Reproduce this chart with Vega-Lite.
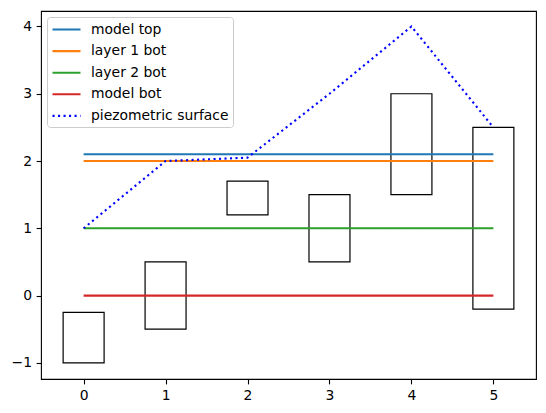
{
  "$schema": "https://vega.github.io/schema/vega-lite/v6.json",
  "width": 495,
  "height": 368,
  "autosize": "none",
  "padding": {"left": 41, "top": 11, "right": 10, "bottom": 34},
  "background": "white",
  "datasets": {
    "lines": [
      {"series": "model top", "x": 0, "y": 2.1},
      {"series": "model top", "x": 5, "y": 2.1},
      {"series": "layer 1 bot", "x": 0, "y": 2.0},
      {"series": "layer 1 bot", "x": 5, "y": 2.0},
      {"series": "layer 2 bot", "x": 0, "y": 1.0},
      {"series": "layer 2 bot", "x": 5, "y": 1.0},
      {"series": "model bot", "x": 0, "y": 0.0},
      {"series": "model bot", "x": 5, "y": 0.0},
      {"series": "piezometric surface", "x": 0, "y": 1.0},
      {"series": "piezometric surface", "x": 1, "y": 2.0},
      {"series": "piezometric surface", "x": 2, "y": 2.05},
      {"series": "piezometric surface", "x": 3, "y": 3.0},
      {"series": "piezometric surface", "x": 4, "y": 4.0},
      {"series": "piezometric surface", "x": 5, "y": 2.5}
    ],
    "boxes": [
      {"left": -0.25, "right": 0.25, "bottom": -1.0, "top": -0.25},
      {"left": 0.75, "right": 1.25, "bottom": -0.5, "top": 0.5},
      {"left": 1.75, "right": 2.25, "bottom": 1.2, "top": 1.7},
      {"left": 2.75, "right": 3.25, "bottom": 0.5, "top": 1.5},
      {"left": 3.75, "right": 4.25, "bottom": 1.5, "top": 3.0},
      {"left": 4.75, "right": 5.25, "bottom": -0.2, "top": 2.5}
    ]
  },
  "layer": [
    {
      "data": {"name": "boxes"},
      "mark": {"type": "rect", "fill": null, "fillOpacity": 0, "stroke": "black", "strokeWidth": 1.2},
      "encoding": {
        "x": {"field": "left", "type": "quantitative", "scale": {"domain": [-0.52, 5.52], "nice": false, "zero": false}, "axis": {"title": null, "values": [0, 1, 2, 3, 4, 5], "format": "d"}},
        "x2": {"field": "right"},
        "y": {"field": "bottom", "type": "quantitative", "scale": {"domain": [-1.24, 4.23], "nice": false, "zero": false}, "axis": {"title": null, "values": [-1, 0, 1, 2, 3, 4], "format": "d"}},
        "y2": {"field": "top"}
      }
    },
    {
      "data": {"name": "lines"},
      "mark": {"type": "line", "strokeWidth": 2.1, "strokeCap": "butt"},
      "encoding": {
        "x": {"field": "x", "type": "quantitative"},
        "y": {"field": "y", "type": "quantitative"},
        "color": {
          "field": "series", "type": "nominal",
          "scale": {
            "domain": ["model top", "layer 1 bot", "layer 2 bot", "model bot", "piezometric surface"],
            "range": ["#1f77b4", "#ff7f0e", "#2ca02c", "#d62728", "#0000ff"]
          },
          "legend": {"title": null}
        },
        "strokeDash": {
          "field": "series", "type": "nominal",
          "scale": {
            "domain": ["model top", "layer 1 bot", "layer 2 bot", "model bot", "piezometric surface"],
            "range": [[1, 0], [1, 0], [1, 0], [1, 0], [2.1, 3.4]]
          },
          "legend": {"title": null}
        }
      }
    }
  ],
  "config": {
    "view": {"stroke": "black", "strokeWidth": 1.1},
    "axis": {
      "grid": false,
      "domain": false,
      "tickColor": "black",
      "tickSize": 4.9,
      "tickWidth": 1.1,
      "labelColor": "black",
      "labelFont": "DejaVu Sans",
      "labelFontSize": 13.9,
      "labelPadding": 4.5
    },
    "legend": {
      "orient": "top-left",
      "offset": 6.3,
      "padding": 4,
      "fillColor": "rgba(255,255,255,0.8)",
      "strokeColor": "#cccccc",
      "cornerRadius": 3,
      "symbolType": "M-1,0H3",
      "symbolSize": 196,
      "symbolStrokeWidth": 2.1,
      "labelFont": "DejaVu Sans",
      "labelFontSize": 13.9,
      "labelColor": "black",
      "labelOffset": 23,
      "rowPadding": 5.6
    }
  }
}
